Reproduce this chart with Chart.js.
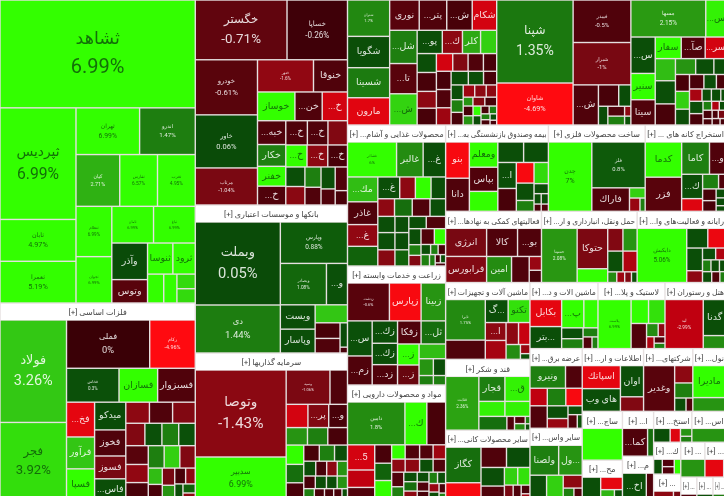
<!DOCTYPE html>
<html>
<head>
<meta charset="utf-8">
<style>
  html, body { margin: 0; padding: 0; background: #e6e0e0; }
  #market { display: block; }
</style>
<script src="https://cdn.jsdelivr.net/npm/chart.js@4/dist/chart.umd.min.js"></script>
</head>
<body>
<canvas id="market" width="724" height="496"></canvas>
<script>
// sector titles and their market weight
const sectorTitles = [
  'انبوه سازی، املاک و مستغلات [+]', 'فلزات اساسی [+]', 'خودرو و ساخت قطعات [+]', 'بانکها و موسسات اعتباری [+]', 'سرمایه گذاریها [+]',
  'محصولات شیمیایی [+]', 'فراورده های نفتی [+]', 'سیمان، آهک و گچ [+]', 'محصولات غذایی و آشام... [+]', 'زراعت و خدمات وابسته [+]', 'مواد و محصولات دارویی [+]',
  'بیمه وصندوق بازنشستگی به... [+]', 'ساخت محصولات فلزی [+]', 'استخراج کانه های ... [+]',
  'فعالیتهای کمکی به نهادها... [+]', 'حمل ونقل، انبارداری و ار... [+]', 'رایانه و فعالیت‌های وا... [+]',
  'ماشین آلات و تجهیزات [+]', 'قند و شکر [+]', 'سایر محصولات کانی... [+]',
  'ماشین الات و د... [+]', 'لاستیک و پلا... [+]', 'هتل و رستوران [+]',
  'عرضه برق... [+]', 'سایر واس... [+]', 'اطلاعات و ار... [+]', 'شرکتهای... [+]', 'نول... [+]',
  'ساج... [+]', 'مح... [+]', 'ا... [+]', 'م... [+]', 'استخ... [+]', 'اس... [+]',
  'ك... [+]', '... [+]', '... [+]', '... [+]', '... [+]', '... [+]', '... [+]'
];
const sectorSizes = [
  62400, 38415, 33744, 22496, 22344,
  21158, 19028, 13490, 13818, 11662, 11270,
  8858, 8342, 6966,
  6816, 6800, 6319,
  6468, 5964, 5880,
  4488, 4422, 4026,
  4160, 3744, 3843, 3087, 2079,
  1960, 1600, 1395, 1364, 1178, 1054,
  864, 702, 840, 735, 368, 368, 299
];
// how the sectors group into strips: +n = n side by side, -n = n stacked
const sectorStrips = [-2, -3, 3, -3, 3, 3, -3, 3, -2, 3, -2, -2, 2, -2, 2, 3];

// stock tickers per sector, same order as above ('' = no label in the cell)
const stockNames = [
  ['ثشاهد','ثپردیس','ثابان','ثعمرا','ثهران','اندرو','کیان','ثفارس','ثغرب','ثنظام','ثجوان','ثامان','ثباغ','وآذر','وتوس','ثنوسا','ثرود','','','',''],
  ['فولاد','فجر','فملی','رکام','فخاس','فسازان','فسبزوار','فخ...','فرآور','فسپا','میدکو','فخوز','فسوز','فاس...','','','','','','','','','','','','','','','','','','','','','',''],
  ['خگستر','خساپا','خودرو','خاور','مرتاب','ختور','خنوقا','خوساز','خن...','خ...','خبه...','خکار','خفنر','خ...','خ...','خ...','','خ...','خ...','خ...','','','','','','','',''],
  ['وبملت','دی','وپارس','وبصادر','و...','ویست','وپاسار','','','','',''],
  ['وتوصا','سدبیر','وسپه','','','پر...','و...','','','','','','','','','','','','','','','','','','','','','',''],
  ['شتران','شگویا','شسینا','مارون','نوری','پتر...','ش...','شکام','شل...','تا...','ش...','پو...','ك...','کلر','','','','','','','','','','','','','','','','','','','','','','','','','','','','','','','','','',''],
  ['شپنا','شاوان','فیبدر','شبرار','ش...','','','','','','',''],
  ['مسها','س...','س...','سنیر','سیتا','سفار','صآ...','سر...','','','','','','','','','','','','','','','','','','','','','','','','','',''],
  ['غشاذر','غالبر','غ...','مك...','غاذر','غ...','','غ...','','','','','','','','','','','','','','','','','','','','','','','','','','','',''],
  ['زدشت','زپارس','زبینا','س...','زم...','زك...','زك...','زد...','زفکا','ثل...','ز...','ز...','','','','',''],
  ['دامین','ك...','','5...','','','','','','','','','','','','','','','','','','','','','','','','','','',''],
  ['بنو','دانا','ومعلم','بپاس','','','','ا...','','','','','','','','','',''],
  ['چدن','فلز','فاراك','','',''],
  ['کدما','فزر','کاما','و...','ك...','','','','','','','',''],
  ['انرژی','فرابورس','کالا','بو...','امین','','',''],
  ['حسینا','حتوکا','','','','','','','','',''],
  ['دایکیش','','','','','','','','','','','',''],
  ['تایرا','','...گ','تکنو','ا...','','','','','',''],
  ['قثابت','قجار','ق...','','','','','','','',''],
  ['کگاز','','','','','','','','','','',''],
  ['بکابل','...بتر','پ...','','','','','',''],
  ['پلاست','','','','','','','',''],
  ['لبد','گدنا',''],
  ['ونیرو','','','','','','','','','',''],
  ['ولصنا','...ول','','','','',''],
  ['اسپاتك','های وب','اوان',''],
  ['وغدیر','','','',''],
  ['مادیرا',''],
  [''],
  ['','','',''],
  ['کما...',''],
  ['اخ...',''],
  ['','','',''],
  [''],
  ['','','',''],
  ['',''],
  [''],
  ['',''],
  [''],
  [''],
  ['']
];
const stockSizes = [
  [20865,8400,3150,3140,2944,2576,2244,1938,1938,1785,1645,1517,1517,1296,828,780,690,464,377,266,260],
  [6695,5070,3948,2162,1749,1287,1254,960,880,860,850,800,700,650,490,480,470,420,375,370,365,415,400,385,350,345,340,225,215,210,180,170,150,130,110,85],
  [5278,3480,3300,3180,2220,1736,1054,1036,756,700,648,594,540,513,504,480,456,450,440,418,360,340,315,275,300,220,280,170],
  [6806,3936,2680,1840,840,816,800,561,375,350,175,42],
  [7569,3741,1440,576,484,462,418,357,340,330,325,310,290,240,235,200,170,155,150,145,140,135,130,125,115,110,100,90,60],
  [1440,1240,1190,1080,841,783,725,696,858,780,806,550,440,396,352,342,342,304,304,272,255,255,221,252,252,238,221,195,169,168,144,144,132,132,120,81,99,99,90,85,72,70,60,55,50,45,40,30],
  [6142,3108,2378,2370,984,420,252,171,160,144,60,54],
  [2590,700,828,598,575,525,483,420,418,437,399,300,270,180,221,234,208,195,169,130,144,108,108,60,156,144,72,64,56,72,54,48,60,48,36],
  [1584,858,726,696,638,609,551,441,315,315,294,272,289,289,255,256,272,256,208,221,208,198,220,180,120,120,195,165,90,70,70,90,60,40,40,30],
  [1476,1116,864,805,667,528,504,480,506,528,420,400,364,224,126,192,108],
  [2145,819,702,598,414,299,272,256,288,168,180,168,156,154,165,154,143,154,140,112,110,105,100,95,90,85,80,75,70,55,40],
  [805,736,672,644,532,494,475,450,396,342,288,180,285,135,70,70,49,49],
  [2814,2288,828,150,130,65],
  [1156,1122,810,480,460,240,210,98,143,130,80,70,50],
  [1148,1066,868,672,648,459,169,150],
  [1925,1230,420,345,322,315,294,96,84,72,60],
  [2420,374,323,322,168,140,110,90,90,70,90,80,60],
  [1480,703,484,462,342,361,252,231,196,80,50],
  [1782,650,625,390,375,385,105,77,70,35,30],
  [1155,561,475,437,400,300,216,198,120,110,70,50],
  [810,660,594,378,220,200,128,99,66],
  [1519,391,368,364,144,84,84,66,55],
  [1813,792,286],
  [714,336,270,288,256,345,234,180,112,112,60],
  [728,598,350,350,208,108,84],
  [840,830,690,322],
  [1218,270,234,130,78],
  [930,400],
  [1248],
  [391,252,132,77],
  [700,168],
  [621,190],
  [224,140,88,66],
  [700],
  [96,66,66,72],
  [190,70],
  [260],
  [240,30],
  [130],
  [130],
  [90]
];
// how the stocks of each sector group into strips, the rest fall back to plain squarify
const stockStrips = [
  [1,-3,2,3,-2,2,-2,2,-1,-1,1,1],
  [-2,2,3,-3,-4,3,4,-3,3],
  [2,-3,2,3,-4,3,3,-2,-2,-2,1,1],
  [-2,1,2,-2,1,-2,1,1],
  [-2,2,3,3,-3,3,4,4],
  [-4,4,-3,4,-4,4,-3,3,-3,3,3],
  [-2,1,1,-1,2,-1,-2,-2],
  [2,-3,3,-3,3,-3,3,4,-2,3],
  [3,-4,4,4,-3,-3,2,-3,2,3],
  [3,-2,-3,2,-2,1,-2,-2],
  [3,-3,-3,4,4],
  [-2,-3,2,-2,-3,1,1,2,2],
  [-1,1,-1,1,2],
  [-2,2,-2,2,-2,-3],
  [-2,2,-1,-1,-2],
  [-1,-2,2,2,4],
  [-1,2,-2,2,3,3],
  [-2,2,-2,2,-1,-2],
  [-1,2,2,-1,-1,-2,-2],
  [-2,2,-2,2],
  [-2,2,-2,1,2],
  [-1,2,-1,2,-1,-2],
  [-1,1,1],
  [2,3,-1,-2],
  [2,-1,-1,1,2],
  [-2,-2],
  [-1,1,1,2],
  [1,1],
  [1],
  [-1,1,2],
  [-1,-1],
  [-1,-1],
  [-1,-1,-2],
  [1],
  [-1,-2,-1],
  [-1,-1],
  [1],
  [-1,-1],
  [1],
  [1],
  [1]
];
// daily change in percent per stock
const stockChanges = [
  [6.99,6.99,4.97,5.19,6.99,1.47,2.71,6.57,4.95,6.99,6.99,6.99,6.99,0.05,-0.6,6,6,6,5.5,3.8,3.8],
  [3.26,3.92,0,-4.96,0.3,6,-0.5,-4,3.2,5.5,0.1,-0.5,-1,0.2,-1.5,-0.5,-1.2,-1.2,0.3,1.5,0.3,-0.6,-1.6,-0.4,1.5,3.5,-1.2,3,-0.4,-1,2,-0.4,-1.5,0.2,1,-1.5],
  [-0.71,-0.26,-0.61,0.06,-1.04,-1.6,-0.5,6,-0.5,-3.5,-0.5,1.5,6,-0.5,-0.5,-0.5,-1.2,6,-1.5,-0.4,0.2,-1.4,1.5,-0.5,0.2,-0.5,-0.5,-0.4],
  [0.05,1.44,0.88,1.08,0.3,0.2,0.2,3.2,-0.4,-0.5,0.1,-0.4],
  [-1.43,6.99,-1.06,-0.5,-3.5,-1.2,-0.4,2,1.5,-0.4,6,1.2,-0.4,-0.4,1.5,0.2,0.2,-0.4,-1.5,2,-0.4,0.2,0.2,2,1.5,-0.4,-0.4,-0.4,0.2],
  [1.7,0.2,1.4,-3.9,-0.6,-0.5,-0.4,-3.5,1.5,-0.6,3.6,0.2,-1.5,2.5,3.5,0.2,-0.4,-1.5,-0.4,-3.5,-1.2,-0.5,-0.4,-0.4,-0.5,-2,0.2,0.2,-0.4,0.2,1.5,-0.4,-2,-1.5,-1.5,2,-1.2,-0.4,-0.4,2,5,0.2,-0.4,1.5,1.5,-0.4,0.2,-0.4],
  [1.35,-4.69,-0.5,-1,-0.5,-0.4,0.1,0.1,-0.5,1.5,-1.5,0.5],
  [2.15,4.5,0.2,5,-0.5,5,-0.5,-3.5,3,0.2,-0.4,2,0.2,0.2,-0.4,3.5,0.2,-0.4,0.2,-0.4,-2.3,0.2,0.2,0.2,0.2,-0.4,1.5,-2.5,0.2,-0.4,-0.4,-0.4,-1,-0.4,-0.4],
  [6,1.8,0.2,3,-0.5,-1.6,1,0.2,-1.5,5.5,0.2,-1.5,1.2,-0.5,0.2,0.2,0.2,-1.3,0.2,0.2,1,0.2,-0.5,0.2,1.5,-1.2,-0.5,5,0.2,1.5,-0.4,1.5,1.5,-0.4,0.2,-0.4],
  [-0.6,-4.5,2,0.3,-0.5,0.2,0.2,-0.5,-0.5,1.2,5.5,-0.8,3,2,1.5,0.2,1.5],
  [1.8,5,-0.4,-3.5,-3,-0.5,-0.4,1,6,5,-0.5,-0.5,-2,-1.5,-1.5,0.2,-0.5,-0.5,1.5,0.2,1.2,-1.5,0.2,-0.5,-0.4,1.5,0.2,-1.8,0.2,-0.4,1.5],
  [-4.5,-0.5,5,-0.5,5.5,0.2,0.2,0.2,-0.4,-4.5,0.2,1.5,3.8,0.2,0.2,0.2,-0.4,-0.5],
  [7,0.8,-0.5,3.5,-1.8,1.5],
  [5.5,-0.6,1.5,-0.5,0.2,-3.8,1.5,-0.5,-0.4,-0.4,0.2,0.1,0.2],
  [-1,-1.2,-0.5,-0.5,1.8,-0.5,-1.8,-0.4],
  [2.08,-1.09,5.5,-1.2,2,0.2,-2.5,1.8,-2,-1.2,0.2],
  [5.06,0.2,-4.2,0.2,-1.5,0.2,-2.5,1.5,0.2,0.2,0.2,-0.5,1.5],
  [1.75,-0.5,0.2,4,-1.5,-2.2,-1.5,-3.2,1.8,-1.8,0.2],
  [2.36,1.5,4.5,4.5,4.5,1.2,-0.5,-0.5,1.8,1.5,0.2],
  [1.2,-4.5,-0.5,0.1,0.2,-0.5,3.5,4,-1,-0.5,-0.4,-2],
  [-4,0.2,5,5,0.2,1.5,1.5,-0.5,1.5],
  [6.99,5.5,4,-0.5,1.8,-1.5,-2.5,-0.5,1.5],
  [-2.99,0.2,1.8],
  [1.5,-0.5,-3,1.5,-4.5,-0.5,0.2,-1.8,0.2,-0.5,0.3],
  [1.5,2,0.2,3.5,-1.5,1.5,-0.5],
  [-4,0.2,0.2,-1.2],
  [-0.6,-1.5,1.5,0.2,-0.5],
  [5.5,2],
  [6.5],
  [0.2,-4,2.8,0.2],
  [-0.5,1.2],
  [0.2,-0.5],
  [0.2,-3.8,2,1.5],
  [2],
  [0.2,-0.5,-0.5,5],
  [-1.5,-1],
  [2],
  [-4,5],
  [-0.5],
  [0.2],
  [1.5]
];

const HEADER = 17;
const GAP = 1.4;
const changeStops = [
  [-4.7,[255,10,16]], [-3,[192,0,16]], [-1.4,[138,8,18]], [-1,[120,8,18]], [-0.3,[64,0,8]], [0,[58,0,6]],
  [0.01,[10,74,8]], [0.9,[14,92,10]], [1.44,[29,125,16]], [2.15,[42,154,18]], [3.26,[51,200,20]], [4.9,[51,255,0]]
];

function colorFor(change) {
  if (change <= changeStops[0][0]) return 'rgb(' + changeStops[0][1] + ')';
  for (let i = 1; i < changeStops.length; i++) {
    const [hi, c1] = changeStops[i];
    if (change <= hi) {
      const [lo, c0] = changeStops[i - 1];
      const t = (change - lo) / (hi - lo);
      return `rgb(${c0.map((c, k) => Math.round(c + (c1[k] - c) * t)).join(',')})`;
    }
  }
  return 'rgb(51,255,0)';
}

// squarified treemap, items stay in the order they are given
function squarify(sizes, box, strips) {
  const rects = [];
  let { x0, y0, x1, y1 } = box;
  let left = sizes.reduce((a, b) => a + b, 0);
  let i = 0, st = 0;
  while (i < sizes.length) {
    const dx = x1 - x0, dy = y1 - y0;
    const scale = (dx * dy) / left;
    let across = dx < dy;
    let j = i + 1, sum = sizes[i];
    if (st < strips.length) {
      across = strips[st] > 0;
      j = Math.min(sizes.length, i + Math.abs(strips[st]));
      sum = sizes.slice(i, j).reduce((a, b) => a + b, 0);
      st++;
    } else {
      const side = Math.min(dx, dy);
      let best = worst(sum, sizes[i], sizes[i], side, scale);
      while (j < sizes.length) {
        const part = sizes.slice(i, j + 1);
        const r = worst(sum + sizes[j], Math.max(...part), Math.min(...part), side, scale);
        if (r > best) break;
        best = r; sum += sizes[j]; j++;
      }
    }
    const side = across ? dx : dy;
    const thick = sum * scale / side;
    let pos = across ? x0 : y0;
    for (let k = i; k < j; k++) {
      const len = sizes[k] * scale / thick;
      if (across) rects.push({ x0: pos, x1: pos + len, y0: y0, y1: y0 + thick });
      else rects.push({ x0: x0, x1: x0 + thick, y0: pos, y1: pos + len });
      pos += len;
    }
    if (across) y0 += thick; else x0 += thick;
    left -= sum;
    i = j;
  }
  return rects;
}

function worst(sum, max, min, side, scale) {
  const area = sum * scale;
  const s2 = side * side;
  return Math.max(s2 * max * scale / (area * area), area * area / (s2 * min * scale));
}

// the top of the source picture is cut off, so the root starts above the axis
const sectorRects = squarify(sectorSizes, { x0: 0, y0: -HEADER, x1: 726, y1: 500 }, sectorStrips);
const cells = [];
const headers = [];
sectorRects.forEach((r, s) => {
  headers.push({ x0: r.x0, x1: r.x1, y0: r.y0, y1: r.y0 + HEADER, title: sectorTitles[s] });
  squarify(stockSizes[s], { x0: r.x0, y0: r.y0 + HEADER, x1: r.x1, y1: r.y1 }, stockStrips[s]).forEach((c, k) => {
    cells.push({ ...c, x: (c.x0 + c.x1) / 2, y: (c.y0 + c.y1) / 2, name: stockNames[s][k] || '', change: stockChanges[s][k] });
  });
});

function labelFont(area) {
  const stops = [[1000, 3], [3800, 8.5], [5000, 13], [8000, 15.5], [21000, 20]];
  if (area <= stops[0][0]) return stops[0][1];
  for (let i = 1; i < stops.length; i++) {
    if (area <= stops[i][0]) {
      const t = (area - stops[i - 1][0]) / (stops[i][0] - stops[i - 1][0]);
      return stops[i - 1][1] + (stops[i][1] - stops[i - 1][1]) * t;
    }
  }
  return 20;
}

const FONT = 'Roboto, "DejaVu Sans", sans-serif';

const treemapPlugin = {
  id: 'treemap',
  beforeDatasetsDraw(chart) {
    const { ctx, scales: { x, y } } = chart;
    ctx.save();
    headers.forEach(h => {
      const left = x.getPixelForValue(h.x0), right = x.getPixelForValue(h.x1);
      const top = y.getPixelForValue(h.y0), bottom = y.getPixelForValue(h.y1);
      ctx.fillStyle = '#ffffff';
      ctx.fillRect(left + GAP / 2, top + GAP / 2, right - left - GAP, bottom - top - GAP / 2);
      ctx.fillStyle = '#444444';
      ctx.font = '8px ' + FONT;
      ctx.textAlign = 'center';
      ctx.textBaseline = 'middle';
      ctx.direction = 'rtl';
      ctx.fillText(h.title, (left + right) / 2, top + HEADER * 0.6, right - left - 4);
    });
    cells.forEach(c => {
      const left = x.getPixelForValue(c.x0), right = x.getPixelForValue(c.x1);
      const top = y.getPixelForValue(c.y0), bottom = y.getPixelForValue(c.y1);
      const w = right - left, h = bottom - top;
      ctx.fillStyle = colorFor(c.change);
      ctx.fillRect(left + GAP / 2, top + GAP / 2, w - GAP, h - GAP);
      if (!c.name) return;
      const cx = (left + right) / 2, cy = (top + bottom) / 2;
      ctx.fillStyle = c.change >= 3.5 ? 'rgba(15,95,10,0.9)' : 'rgba(255,255,255,0.85)';
      ctx.textAlign = 'center';
      ctx.textBaseline = 'middle';
      if (w * h >= 1450) {
        const size = labelFont(w * h);
        ctx.direction = 'rtl';
        ctx.font = (size * 0.88) + 'px ' + FONT;
        ctx.fillText(c.name, cx, cy - size * 0.72);
        ctx.direction = 'ltr';
        ctx.font = size + 'px ' + FONT;
        ctx.fillText(c.change + '%', cx, cy + size * 0.72);
      } else {
        ctx.direction = 'rtl';
        ctx.font = '9.5px ' + FONT;
        ctx.fillText(c.name, cx, cy, w - 2);
      }
    });
    ctx.restore();
  }
};

new Chart(document.getElementById('market'), {
  type: 'scatter',
  data: {
    datasets: [{ data: cells, pointRadius: 0, pointHoverRadius: 0 }]
  },
  options: {
    responsive: false,
    animation: false,
    layout: { padding: 0 },
    plugins: { legend: { display: false }, tooltip: { enabled: false } },
    scales: {
      x: { type: 'linear', min: 0, max: 724, display: false },
      y: { type: 'linear', min: 0, max: 496, reverse: true, display: false }
    }
  },
  plugins: [treemapPlugin]
});
</script>
</body>
</html>
